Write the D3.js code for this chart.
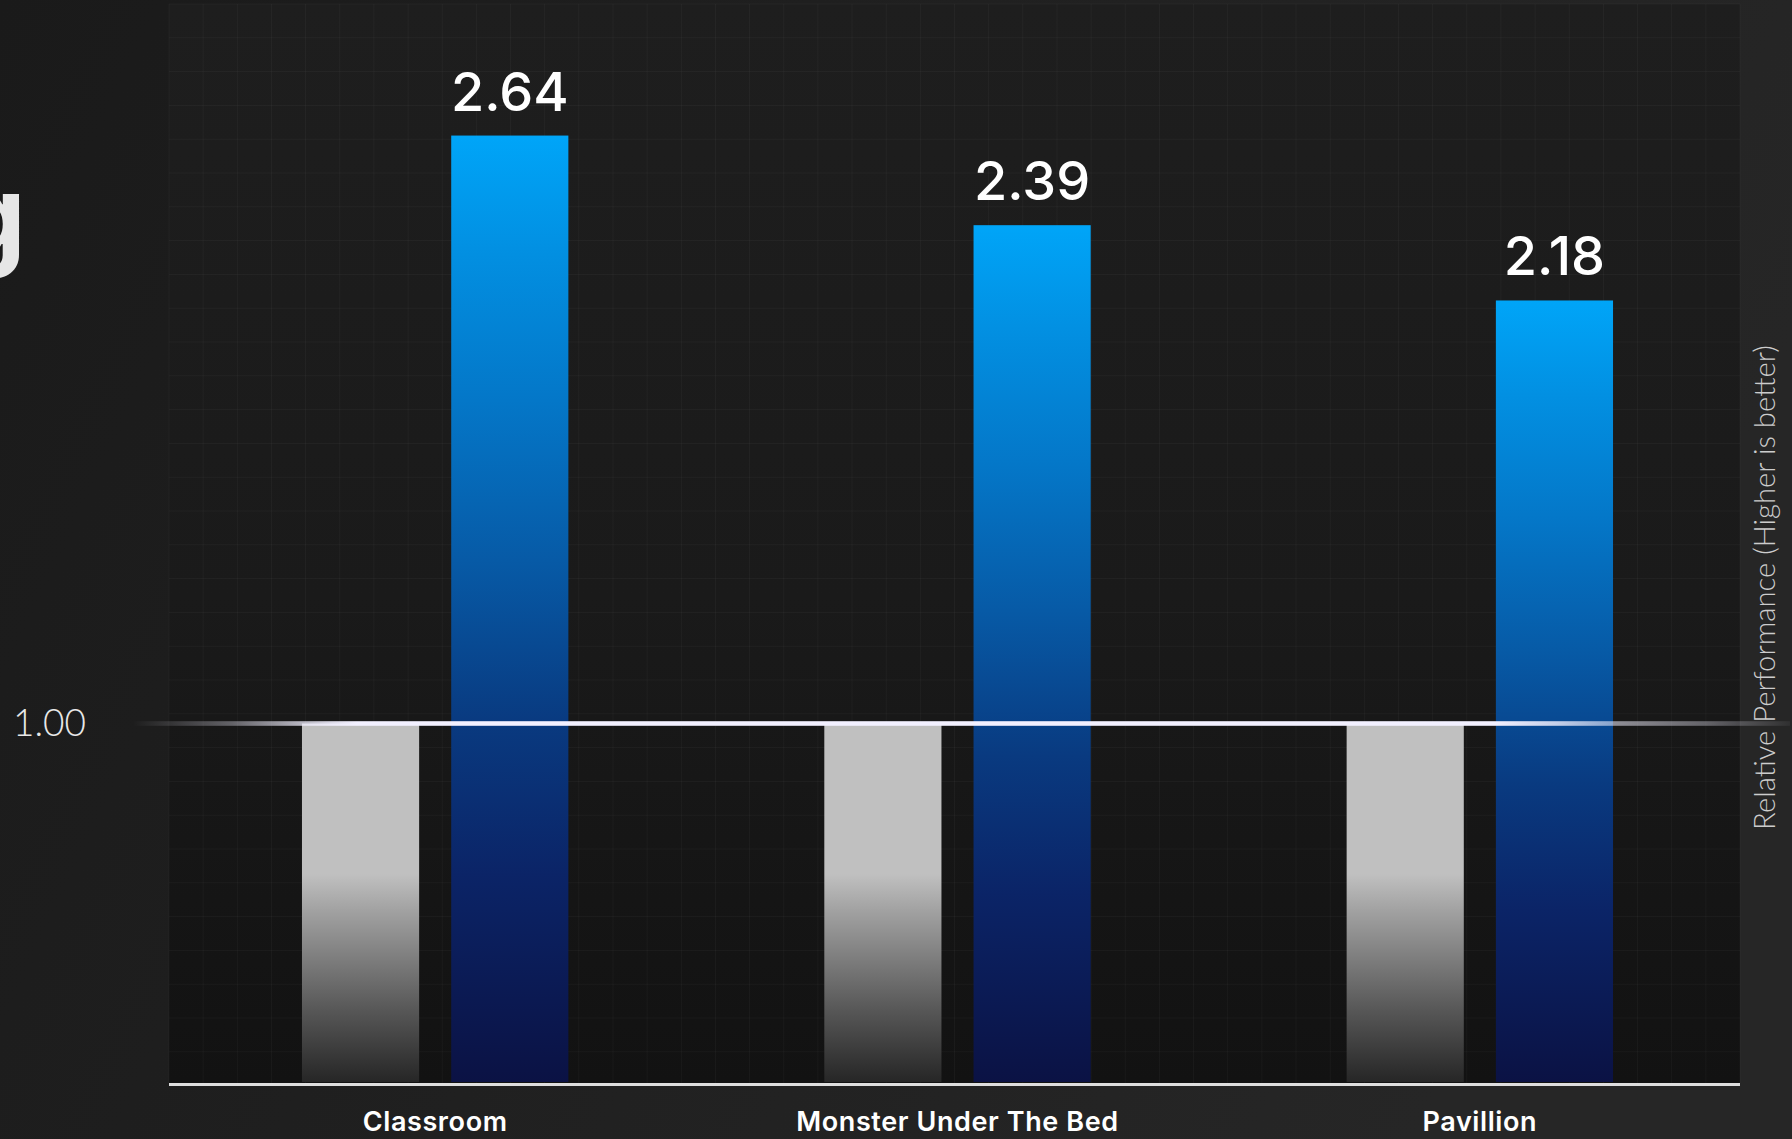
<!DOCTYPE html>
<html>
<head>
<meta charset="utf-8">
<script src="https://cdn.jsdelivr.net/npm/d3@7/dist/d3.min.js"></script>
<style>
  html, body { margin: 0; padding: 0; background: #1c1c1c; overflow: hidden; }
  svg { display: block; }
</style>
</head>
<body>
<script>
// ---- data ----
const categories = ["Classroom", "Monster Under The Bed", "Pavillion"];
const seriesKeys = ["baseline", "accelerated"];
const baselineValues = [1.00, 1.00, 1.00];
const acceleratedValues = [2.64, 2.39, 2.18];
const refTicks = [1.00];
const refTickLabels = ["1.00"];
const axisTitle = "Relative Performance (Higher is better)";
const titleFragment = "g";

// ---- layout ----
const W = 1792, H = 1139;
const plot = { left: 169, right: 1740, top: 4, bottom: 1083 };

const svg = d3.select("body").append("svg")
  .attr("width", W).attr("height", H);

const defs = svg.append("defs");

const bgGrad = defs.append("linearGradient").attr("id", "bg")
  .attr("x1", "0%").attr("x2", "100%").attr("y1", "0%").attr("y2", "30%");
bgGrad.append("stop").attr("offset", "0%").attr("stop-color", "#1a1a1a");
bgGrad.append("stop").attr("offset", "100%").attr("stop-color", "#262626");

const plotGrad = defs.append("linearGradient").attr("id", "plotbg")
  .attr("x1", "0").attr("x2", "0").attr("y1", "0").attr("y2", "1");
plotGrad.append("stop").attr("offset", "0%").attr("stop-color", "#1e1e1e");
plotGrad.append("stop").attr("offset", "55%").attr("stop-color", "#1a1a1a");
plotGrad.append("stop").attr("offset", "100%").attr("stop-color", "#121212");

const grayGrad = defs.append("linearGradient").attr("id", "grayBar")
  .attr("x1", "0").attr("x2", "0").attr("y1", "0").attr("y2", "1");
[["0%", "#c0c0c0"], ["42%", "#c0c0c0"], ["52%", "#a2a2a2"], ["65%", "#7f7f7f"],
 ["80%", "#575757"], ["100%", "#262626"]].forEach(([o, c]) =>
  grayGrad.append("stop").attr("offset", o).attr("stop-color", c));

const blueGrad = defs.append("linearGradient").attr("id", "blueBar")
  .attr("x1", "0").attr("x2", "0").attr("y1", "0").attr("y2", "1");
[["0%", "#00a5f8"], ["12%", "#0290e2"], ["28%", "#0477c8"], ["45%", "#075aa6"],
 ["62%", "#093a80"], ["78%", "#0b2467"], ["100%", "#0b1244"]].forEach(([o, c]) =>
  blueGrad.append("stop").attr("offset", o).attr("stop-color", c));

const refGrad = defs.append("linearGradient").attr("id", "refLine")
  .attr("gradientUnits", "userSpaceOnUse")
  .attr("x1", 133).attr("x2", 1790).attr("y1", 0).attr("y2", 0);
[[0, 0.0], [0.06, 0.35], [0.12, 0.9], [0.135, 1], [0.822, 1], [0.86, 0.8],
 [0.893, 0.55], [0.95, 0.35], [1, 0.05]].forEach(([o, a]) =>
  refGrad.append("stop").attr("offset", o).attr("stop-color", "#f2f0ff").attr("stop-opacity", a));

// ---- background ----
svg.append("rect").attr("width", W).attr("height", H).attr("fill", "url(#bg)");
svg.append("rect")
  .attr("x", plot.left).attr("y", plot.top)
  .attr("width", plot.right - plot.left).attr("height", plot.bottom - plot.top)
  .attr("fill", "url(#plotbg)");

// faint grid
const gridG = svg.append("g").attr("stroke", "#ffffff").attr("stroke-opacity", 0.035).attr("stroke-width", 1);
const cellW = (plot.right - plot.left) / 46;
const gx = d3.range(plot.left, plot.right + 1, cellW);
gridG.selectAll("line.v").data(gx).join("line")
  .attr("x1", d => d).attr("x2", d => d).attr("y1", plot.top).attr("y2", plot.bottom);
const cellH = 33.8;
const gy = d3.range(plot.top, plot.bottom, cellH);
gridG.selectAll("line.h").data(gy).join("line")
  .attr("x1", plot.left).attr("x2", plot.right).attr("y1", d => d).attr("y2", d => d);

// ---- scales ----
const y = d3.scaleLinear().domain([0, 3]).range([1082, 1082 - 3 * 358.5]);
const x0 = d3.scaleBand().domain(categories).range([174, 1741])
  .paddingInner(0.49).paddingOuter(0.245);
const x1 = d3.scaleBand().domain(seriesKeys).range([0, x0.bandwidth()]).paddingInner(0.215);

const rows = categories.map((c, i) => ({
  cat: c,
  vals: [
    { key: "baseline", v: baselineValues[i] },
    { key: "accelerated", v: acceleratedValues[i] }
  ]
}));

// ---- bars ----
const groups = svg.append("g").selectAll("g").data(rows).join("g")
  .attr("transform", d => `translate(${x0(d.cat)},0)`);

groups.selectAll("rect").data(d => d.vals).join("rect")
  .attr("x", d => x1(d.key))
  .attr("width", x1.bandwidth())
  .attr("y", d => y(d.v))
  .attr("height", d => y(0) - y(d.v))
  .attr("fill", d => d.key === "baseline" ? "url(#grayBar)" : "url(#blueBar)");

groups.append("text")
  .attr("x", x1("accelerated") + x1.bandwidth() / 2)
  .attr("y", d => y(d.vals[1].v) - 25)
  .attr("text-anchor", "middle")
  .attr("fill", "#ffffff")
  .attr("font-family", "Inter, 'Noto Sans', sans-serif")
  .attr("font-weight", 500)
  .attr("font-size", 54)
  .text(d => d3.format(".2f")(d.vals[1].v));

// ---- x axis baseline line ----
svg.append("line")
  .attr("x1", plot.left).attr("x2", plot.right)
  .attr("y1", y(0) + 2.5).attr("y2", y(0) + 2.5)
  .attr("stroke", "#dedede").attr("stroke-width", 3);

svg.append("g").selectAll("text").data(categories).join("text")
  .attr("x", d => x0(d) + x0.bandwidth() / 2)
  .attr("y", 1131)
  .attr("text-anchor", "middle")
  .attr("fill", "#ffffff")
  .attr("font-family", "Inter, 'Noto Sans', sans-serif")
  .attr("font-weight", 600)
  .attr("font-size", 27)
  .attr("letter-spacing", 0.6)
  .text(d => d);

// ---- reference line at 1.00 ----
svg.append("g").selectAll("rect").data(refTicks).join("rect")
  .attr("x", 133).attr("width", 1790 - 133)
  .attr("y", d => y(d) - 2.3).attr("height", 4.6)
  .attr("fill", "url(#refLine)");

svg.append("g").selectAll("text").data(refTicks).join("text")
  .attr("x", 13)
  .attr("y", d => y(d) + 12)
  .attr("fill", "#e8e8e8")
  .attr("font-family", "Lato, 'Open Sans', sans-serif")
  .attr("font-weight", 300)
  .attr("font-size", 37)
  .text((d, i) => refTickLabels[i]);

// ---- right axis title ----
const at = svg.append("text")
  .attr("transform", "translate(1775,587.5) rotate(-90)")
  .attr("text-anchor", "middle")
  .attr("fill", "#cccccc")
  .attr("font-family", "Lato, 'Open Sans', sans-serif")
  .attr("font-weight", 300)
  .attr("font-size", 25)
  .text(axisTitle);
const len = at.node().getComputedTextLength();
if (len > 0) at.attr("font-size", 25 * 485 / len);

// ---- cropped title fragment at left edge ----
svg.append("text")
  .attr("x", 26).attr("y", 255)
  .attr("text-anchor", "end")
  .attr("fill", "#e6e6e6")
  .attr("font-family", "Inter, 'Noto Sans', sans-serif")
  .attr("font-weight", 700)
  .attr("font-size", 112)
  .text(titleFragment);
</script>
</body>
</html>
